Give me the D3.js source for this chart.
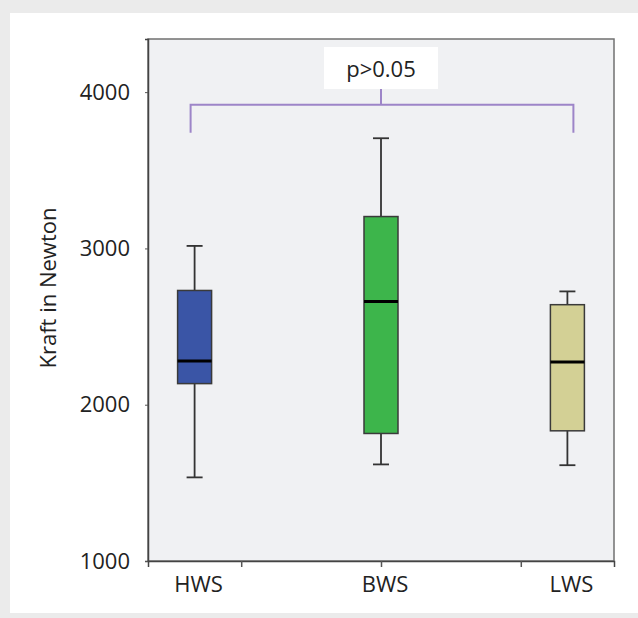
<!DOCTYPE html>
<html>
<head>
<meta charset="utf-8">
<script src="https://cdn.jsdelivr.net/npm/d3@7"></script>
<style>
  body { margin: 0; background: #ebebeb; }
  text { font-family: "Open Sans", sans-serif; fill: #222; }
</style>
</head>
<body>
<div id="chart"></div>
<script>
const width = 638;
const height = 618;

// data
const groups = ["HWS", "BWS", "LWS"];
const whiskerLow = [1535, 1618, 1613];
const q1 = [2135, 1816, 1833];
const median = [2280, 2661, 2274];
const q3 = [2731, 3204, 2640];
const whiskerHigh = [3016, 3705, 2725];
const boxColors = ["#3a55a6", "#3db54b", "#d3d095"];
const yTicks = [1000, 2000, 3000, 4000];
const xTickPos = [0.25, 1, 1.75]; // ticks sit between groups in the original
const pLabel = "p>0.05";
const bracketLevel = 3920;
const bracketLegLevel = 3740;
const bracketTopLevel = 4020;

const margin = { left: 148, right: 24, top: 39, bottom: 57 };

const svg = d3.select("#chart").append("svg").attr("width", width).attr("height", height);

svg.append("rect").attr("width", width).attr("height", height).attr("fill", "#ebebeb");
svg.append("rect").attr("x", 10).attr("y", 13).attr("width", width - 10).attr("height", 600).attr("fill", "#fff");

const x = d3.scaleLinear().domain([-0.25, 2.25]).range([margin.left, width - margin.right]);
const y = d3.scaleLinear().domain([1000, 4340]).range([height - margin.bottom, margin.top]);

// plot panel
svg.append("rect")
  .attr("x", x(-0.25)).attr("y", y(4340))
  .attr("width", x(2.25) - x(-0.25)).attr("height", y(1000) - y(4340))
  .attr("fill", "#f0f1f3").attr("stroke", "#707070").attr("stroke-width", 1.5);

// y axis
const yAxis = svg.append("g")
  .attr("transform", `translate(${x(-0.25)},0)`)
  .call(d3.axisLeft(y).tickValues(yTicks).tickSize(3).tickPadding(15).tickFormat(d3.format("d")));
yAxis.select(".domain").attr("stroke", "#444").attr("stroke-width", 1.5);
yAxis.selectAll(".tick line").attr("stroke", "#555");
yAxis.selectAll("text").style("font-size", "22px").attr("fill", "#222").style("font-family", "'Open Sans', sans-serif");

// x axis
const xAxis = svg.append("g")
  .attr("transform", `translate(0,${y(1000)})`)
  .call(d3.axisBottom(x).tickValues(xTickPos).tickSize(6).tickFormat(""));
xAxis.select(".domain").attr("stroke", "#444").attr("stroke-width", 1.5);
xAxis.selectAll(".tick line").attr("stroke", "#555").attr("stroke-width", 1.5);

svg.append("g").selectAll("text")
  .data(groups)
  .join("text")
  .attr("x", (d, i) => x(i) + 4)
  .attr("y", y(1000) + 31)
  .attr("text-anchor", "middle")
  .style("font-size", "22px")
  .text(d => d);

// y label
svg.append("text")
  .attr("transform", `translate(56,288) rotate(-90)`)
  .attr("text-anchor", "middle")
  .style("font-size", "22px")
  .text("Kraft in Newton");

// boxes
const boxW = 34;
const capW = 16;
const g = svg.append("g").selectAll("g")
  .data(groups)
  .join("g");

g.append("line")
  .attr("x1", (d, i) => x(i)).attr("x2", (d, i) => x(i))
  .attr("y1", (d, i) => y(whiskerLow[i])).attr("y2", (d, i) => y(whiskerHigh[i]))
  .attr("stroke", "#333").attr("stroke-width", 1.8);

g.append("line")
  .attr("x1", (d, i) => x(i) - capW / 2).attr("x2", (d, i) => x(i) + capW / 2)
  .attr("y1", (d, i) => y(whiskerHigh[i])).attr("y2", (d, i) => y(whiskerHigh[i]))
  .attr("stroke", "#333").attr("stroke-width", 1.8);

g.append("line")
  .attr("x1", (d, i) => x(i) - capW / 2).attr("x2", (d, i) => x(i) + capW / 2)
  .attr("y1", (d, i) => y(whiskerLow[i])).attr("y2", (d, i) => y(whiskerLow[i]))
  .attr("stroke", "#333").attr("stroke-width", 1.8);

g.append("rect")
  .attr("x", (d, i) => x(i) - boxW / 2)
  .attr("y", (d, i) => y(q3[i]))
  .attr("width", boxW)
  .attr("height", (d, i) => y(q1[i]) - y(q3[i]))
  .attr("fill", (d, i) => boxColors[i])
  .attr("stroke", "#3a3a3a").attr("stroke-width", 1.5);

g.append("line")
  .attr("x1", (d, i) => x(i) - boxW / 2).attr("x2", (d, i) => x(i) + boxW / 2)
  .attr("y1", (d, i) => y(median[i])).attr("y2", (d, i) => y(median[i]))
  .attr("stroke", "#000").attr("stroke-width", 3);

// significance bracket
const bl = x(0) - 4, br = x(2) + 6, bm = (x(0) + x(2)) / 2;
svg.append("path")
  .attr("d", `M${bl},${y(bracketLegLevel)}V${y(bracketLevel)}H${br}V${y(bracketLegLevel)}M${bm},${y(bracketLevel)}V${y(bracketTopLevel)}`)
  .attr("fill", "none").attr("stroke", "#9d85c8").attr("stroke-width", 2);

svg.append("rect")
  .attr("x", bm - 57).attr("y", y(bracketTopLevel) - 42)
  .attr("width", 114).attr("height", 42)
  .attr("fill", "#fff");

svg.append("text")
  .attr("x", bm).attr("y", y(bracketTopLevel) - 12)
  .attr("text-anchor", "middle")
  .style("font-size", "22px")
  .text(pLabel);
</script>
</body>
</html>
